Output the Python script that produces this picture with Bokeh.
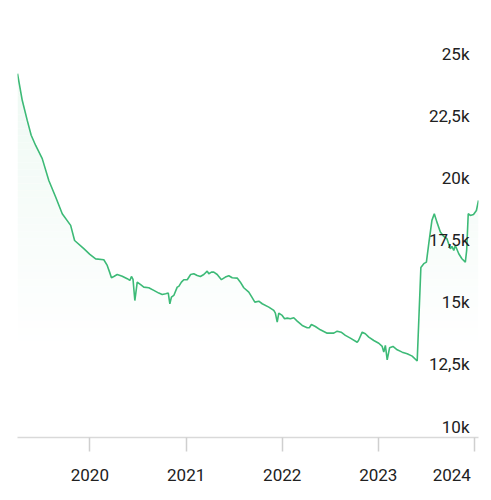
from datetime import datetime
import numpy as np
import pandas as pd
from bokeh.plotting import figure
from bokeh.models import FixedTicker, Range1d
from bokeh.core.properties import value
from bokeh.embed import file_html
from bokeh.resources import INLINE

# ---- data ----
dates = [
    "2019-04-01", "2019-04-19", "2019-05-08", "2019-05-23", "2019-06-09", "2019-07-04",
    "2019-07-29", "2019-08-24", "2019-09-18", "2019-10-20", "2019-11-04", "2019-12-09",
    "2020-01-01", "2020-01-23", "2020-02-23", "2020-03-07", "2020-03-16", "2020-03-23",
    "2020-04-01", "2020-04-14", "2020-05-03", "2020-05-22", "2020-06-01", "2020-06-07",
    "2020-06-13", "2020-06-20", "2020-06-29", "2020-07-12", "2020-07-24", "2020-08-12",
    "2020-08-31", "2020-09-19", "2020-10-02", "2020-10-15", "2020-10-25", "2020-10-31",
    "2020-11-06", "2020-11-15", "2020-11-28", "2020-12-04", "2020-12-14", "2020-12-23",
    "2021-01-05", "2021-01-18", "2021-01-30", "2021-02-12", "2021-02-24", "2021-03-09",
    "2021-03-22", "2021-03-28", "2021-04-07", "2021-04-16", "2021-04-29", "2021-05-15",
    "2021-05-30", "2021-06-12", "2021-06-25", "2021-07-14", "2021-07-26", "2021-08-08",
    "2021-08-27", "2021-09-06", "2021-09-19", "2021-10-04", "2021-10-17", "2021-11-11",
    "2021-11-30", "2021-12-06", "2021-12-13", "2021-12-19", "2022-01-01", "2022-01-10",
    "2022-01-20", "2022-02-01", "2022-02-14", "2022-02-27", "2022-03-18", "2022-04-06",
    "2022-04-14", "2022-04-22", "2022-05-07", "2022-05-26", "2022-06-21", "2022-07-16",
    "2022-07-29", "2022-08-13", "2022-08-29", "2022-09-17", "2022-10-13", "2022-10-18",
    "2022-11-01", "2022-11-13", "2022-11-26", "2022-12-15", "2023-01-03", "2023-01-16",
    "2023-01-22", "2023-01-28", "2023-02-04", "2023-02-13", "2023-02-26", "2023-03-14",
    "2023-04-02", "2023-04-21", "2023-05-10", "2023-05-29", "2023-06-12", "2023-06-23",
    "2023-07-03", "2023-07-12", "2023-07-24", "2023-08-02", "2023-08-12", "2023-08-25",
    "2023-09-07", "2023-09-19", "2023-10-02", "2023-10-08", "2023-10-15", "2023-10-21",
    "2023-11-03", "2023-11-15", "2023-11-28", "2023-12-03", "2023-12-09", "2023-12-17",
    "2023-12-29", "2024-01-09", "2024-01-17",
]
prices = [
    24665, 23590, 22780, 22180, 21770, 21240,
    20360, 19690, 19020, 18550, 17940, 17610,
    17380, 17200, 17165, 16935, 16665, 16440,
    16490, 16570, 16500, 16400, 16330, 16490,
    16370, 15520, 16260, 16160, 16060, 16035,
    15930, 15820, 15765, 15795, 15820, 15390,
    15655, 15725, 16060, 16090, 16260, 16360,
    16360, 16570, 16600, 16530, 16490, 16570,
    16705, 16600, 16665, 16665, 16570, 16360,
    16465, 16520, 16440, 16425, 16260, 16035,
    15860, 15685, 15455, 15495, 15390, 15255,
    15120, 15010, 14650, 15010, 14920, 14785,
    14810, 14785, 14825, 14690, 14515, 14425,
    14425, 14555, 14475, 14340, 14205, 14205,
    14285, 14245, 14115, 14005, 13840, 13910,
    14245, 14180, 14045, 13910, 13800, 13670,
    13440, 13710, 13130, 13615, 13670, 13535,
    13440, 13375, 13280, 13085, 16855, 17005,
    17070, 17810, 18750, 19020, 18680, 18280,
    18105, 18010, 17610, 17700, 17540, 17740,
    17405, 17205, 17070, 17540, 19020, 18950,
    18990, 19150, 19555,
]
y_ticks = [10000, 12500, 15000, 17500, 20000, 22500, 25000]
y_tick_labels = ["10k", "12,5k", "15k", "17,5k", "20k", "22,5k", "25k"]
year_ticks = ["2020-01-01", "2021-01-01", "2022-01-01", "2023-01-01", "2024-01-01"]
year_labels = ["2020", "2021", "2022", "2023", "2024"]

LINE = "#3dba77"
TEXT = "#212121"
FONT = "Roboto"

xs = pd.to_datetime(dates)
v = np.array(prices, dtype=float)
x_start, x_end = xs[0], xs[-1]

p = figure(
    width=483, height=492,
    x_axis_type="datetime", y_axis_location=None,
    x_range=Range1d(x_start, x_end), y_range=Range1d(10000, 26000),
    output_backend="svg", toolbar_location=None,
    min_border_left=17, min_border_right=5, min_border_top=40, min_border_bottom=55,
)
p.outline_line_color = None
p.xgrid.visible = False
p.ygrid.visible = False
p.background_fill_color = "white"
p.border_fill_color = "white"


def mix(alpha):
    r, g, b = 0x3d, 0xba, 0x77
    return "#%02x%02x%02x" % tuple(int(round(255 - (255 - c) * alpha)) for c in (r, g, b))


# soft vertical gradient under the line: non-overlapping solid bands
n_bands = 40
edges = np.linspace(13600, v.max(), n_bands + 1)
for i in range(n_bands):
    lo, hi = edges[i], edges[i + 1]
    a = 0.085 * (i + 0.5) / n_bands
    p.varea(x=xs, y1=np.minimum(v, lo), y2=np.minimum(v, hi), fill_color=mix(a))

p.line(xs, v, line_color=LINE, line_width=1.6)

# y tick labels drawn inside the plot, right aligned, sitting above their value
p.text(x=[x_end] * len(y_ticks), y=y_ticks, text=y_tick_labels,
       text_align="right", text_baseline="alphabetic", x_offset=-9, y_offset=-11,
       text_font=value(FONT), text_font_size="17px", text_color=TEXT)

# x axis
tick_ms = [pd.Timestamp(d).value // 10**6 for d in year_ticks]
ax = p.xaxis[0]
ax.ticker = FixedTicker(ticks=tick_ms)
overrides = {t: lab for t, lab in zip(tick_ms, year_labels)}
# last label is pushed left so that it stays inside the canvas
overrides[tick_ms[-1]] = year_labels[-1] + "\u00a0" * 3
ax.major_label_overrides = overrides
ax.axis_line_color = "#d9d9d9"
ax.axis_line_width = 1.5
ax.major_tick_line_color = "#cfcfcf"
ax.major_tick_line_width = 1.5
ax.major_tick_out = 14
ax.major_tick_in = 0
ax.minor_tick_out = 0
ax.minor_tick_in = 0
ax.major_label_standoff = 13
ax.major_label_text_font = FONT
ax.major_label_text_font_size = "17px"
ax.major_label_text_color = TEXT

open("out.html", "w").write(file_html(p, INLINE))
